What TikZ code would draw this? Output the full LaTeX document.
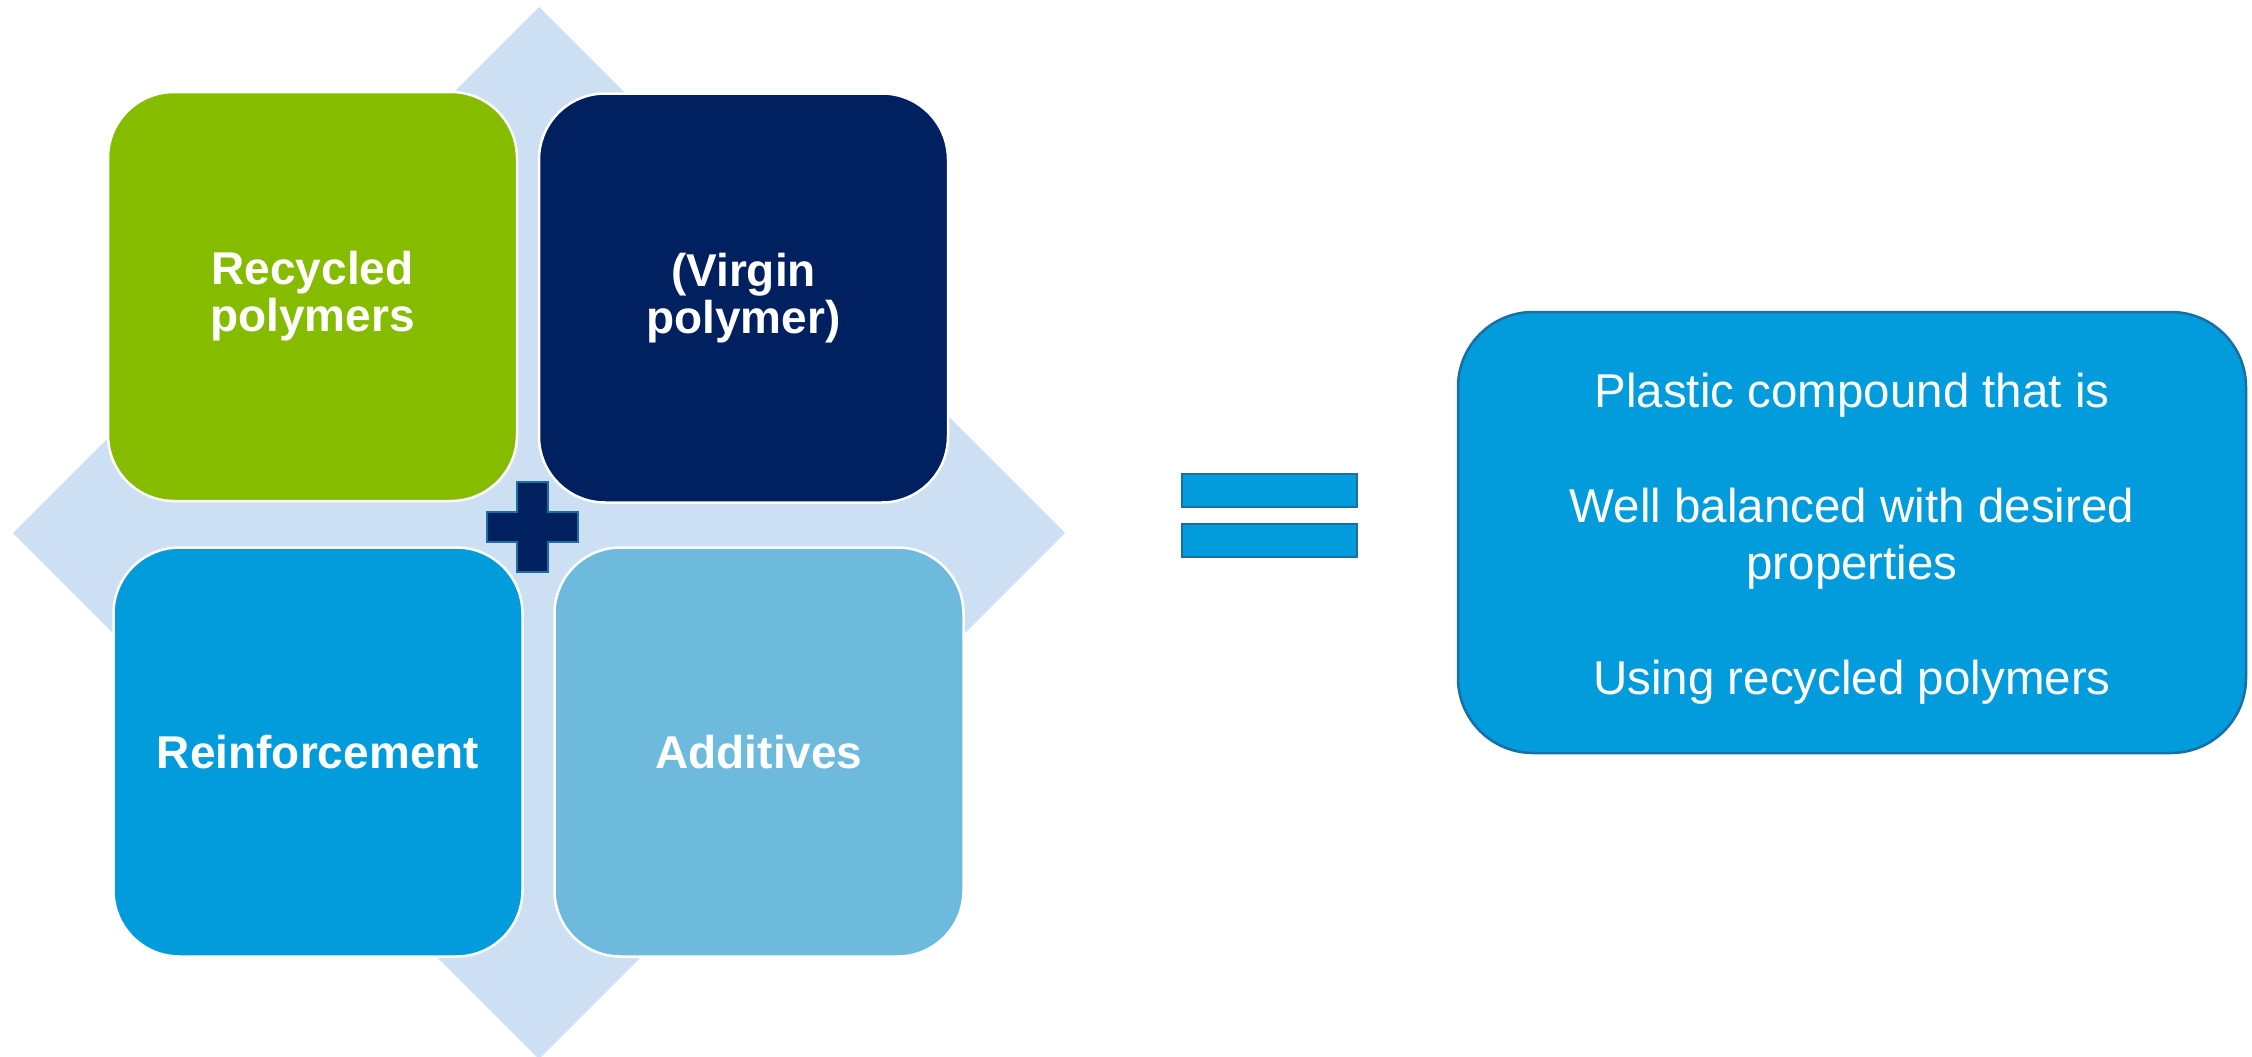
\documentclass[tikz,border=0pt]{standalone}
\usepackage{fontspec}
\setmainfont{Liberation Sans}
\definecolor{cgreen}{RGB}{134,188,0}
\definecolor{cnavy}{RGB}{0,32,96}
\definecolor{cblue}{RGB}{2,155,220}
\definecolor{clight}{RGB}{110,186,220}
\definecolor{cdiam}{RGB}{205,223,242}
\definecolor{cedge}{RGB}{25,110,165}
\begin{document}
\begin{tikzpicture}[x=1pt,y=-1pt,
  quad/.style={rounded corners=66pt, draw=white, line width=2.5pt,
    minimum width=409pt, minimum height=409pt, text=white, align=center,
    font=\fontsize{46}{47}\selectfont\bfseries, inner sep=0pt},
  symb/.style={fill=#1, draw=cedge, line width=2pt},
  resbox/.style={draw=cedge, fill=cblue, line width=2.5pt, rounded corners=75pt,
    minimum width=788pt, minimum height=441pt, inner sep=0pt},
  restxt/.style={text=white, align=center, font=\fontsize{47.5}{57.5}\selectfont, inner sep=0pt}]
\useasboundingbox (0,0) rectangle (2252,1057);
% background diamond
\fill[cdiam] (539,7) -- (1065,533) -- (539,1059) -- (13,533) -- cycle;
% four quadrants
\node[quad, fill=cgreen] (recy) at (312.5,296.5) {Recycled\\polymers};
\node[quad, fill=cnavy] (virg) at (743.5,298) {(Virgin\\polymer)};
\node[quad, fill=cblue] (reinf) at (318,752) {Reinforcement};
\node[quad, fill=clight] (addi) at (759,752) {Additives};
% plus sign
\draw[symb=cnavy] (517,482) -- (548,482) -- (548,512) -- (578,512) -- (578,542)
  -- (548,542) -- (548,572) -- (517,572) -- (517,542) -- (487,542) -- (487,512)
  -- (517,512) -- cycle;
% equals sign
\draw[symb=cblue] (1182,474) rectangle (1357,507);
\draw[symb=cblue] (1182,524) rectangle (1357,557);
% result
\node[resbox] (result) at (1852,532.5) {};
\node[restxt] (restext) at (1852,538.5) {Plastic compound that is\\[57.5pt]Well balanced with desired\\properties\\[57.5pt]Using recycled polymers};
\end{tikzpicture}
\end{document}
